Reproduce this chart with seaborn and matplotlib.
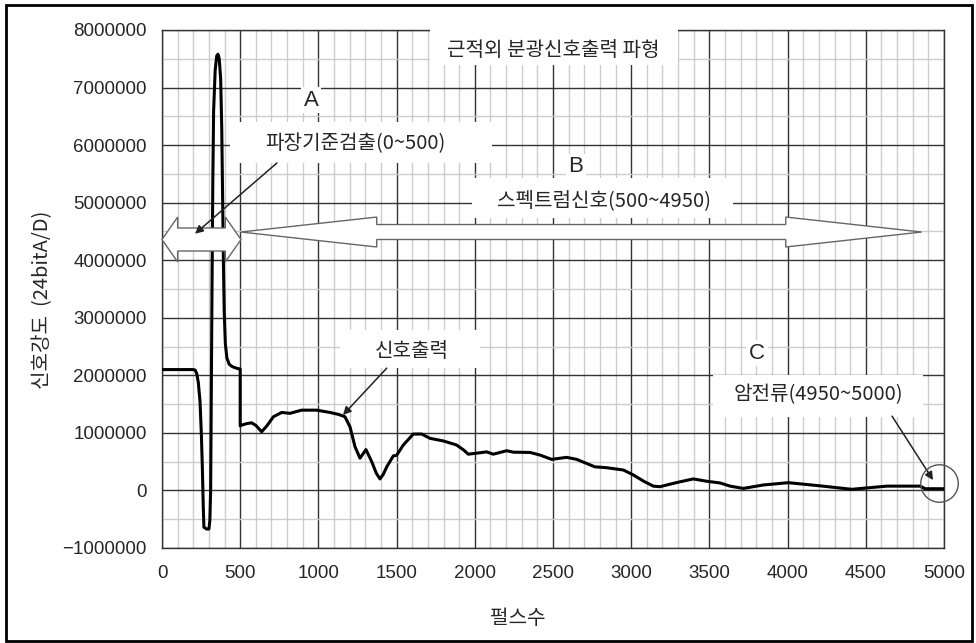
import matplotlib
matplotlib.use("Agg")
import matplotlib.pyplot as plt
import numpy as np
import pandas as pd
import seaborn as sns
from matplotlib.patches import Polygon, Rectangle
from matplotlib.ticker import MultipleLocator, FuncFormatter

# Near-infrared spectrometer output waveform: pulse index vs. signal level
pulse_count = [
    0, 100, 200, 212, 222, 232, 243, 252, 258, 264, 268, 285, 300, 306, 311,
    315, 320, 325, 330, 340, 350, 358, 366, 375, 382, 388, 393, 398, 405, 415,
    430, 450, 480, 500,
    500, 510, 540, 573, 600, 637, 670, 712, 765, 818, 893, 989, 1074, 1130,
    1170, 1202, 1234, 1266, 1304, 1341, 1370, 1394, 1415, 1437, 1479, 1500,
    1543, 1607, 1660, 1714, 1799, 1883, 1930, 1958, 2033, 2076, 2118, 2204,
    2246, 2353, 2417, 2491, 2587, 2651, 2768, 2843, 2950, 3013, 3080, 3141,
    3184, 3250, 3312, 3397, 3482, 3568, 3632, 3717, 3845, 4005, 4207, 4410,
    4634, 4847, 4879, 5000,
]
signal_level = [
    2100000, 2100000, 2100000, 2090000, 2030000, 1880000, 1550000, 950000,
    400000, -300000, -640000, -670000, -670000, -520000, 0,
    1600000, 3600000, 5400000, 6600000, 7300000, 7550000, 7580000, 7500000,
    7150000, 6300000, 5000000, 3900000, 3100000, 2550000, 2300000,
    2190000, 2150000, 2120000, 2110000,
    1120000, 1135000, 1160000, 1175000, 1130000, 1020000, 1120000, 1280000,
    1355000, 1340000, 1395000, 1395000, 1355000, 1320000,
    1280000, 1105000, 760000, 560000, 710000, 500000, 300000, 200000,
    280000, 410000, 600000, 610000,
    790000, 980000, 980000, 905000, 860000, 790000, 700000, 630000, 655000,
    670000, 630000, 690000,
    665000, 660000, 615000, 540000, 575000, 540000, 410000, 395000, 355000,
    270000, 160000, 75000,
    65000, 110000, 150000, 200000, 160000, 130000, 75000, 35000, 95000,
    135000, 80000, 20000,
    75000, 75000, 30000, 30000,
]

x_ticks = list(range(0, 5001, 500))
y_ticks = list(range(-1000000, 8000001, 1000000))

chart_title = "근적외 분광신호출력 파형"
x_label = "펄스수"
y_label = "신호강도  (24bitA/D)"

sns.set_theme(style="white")
plt.rcParams["font.family"] = ["Noto Sans CJK KR", "DejaVu Sans"]
plt.rcParams["axes.unicode_minus"] = True

W, H = 976, 643
fig = plt.figure(figsize=(W / 100, H / 100), dpi=100)
fig.patch.set_facecolor("white")
ax = fig.add_axes([162 / W, 1 - 548 / H, 782 / W, 518 / H])

df = pd.DataFrame({"pulse": pulse_count, "signal": signal_level})
sns.lineplot(data=df, x="pulse", y="signal", estimator=None, sort=False,
             color="black", linewidth=2.2, ax=ax, zorder=3)

ax.set_xlim(x_ticks[0], x_ticks[-1])
ax.set_ylim(y_ticks[0], y_ticks[-1])
ax.set_xticks(x_ticks)
ax.set_yticks(y_ticks)
ax.xaxis.set_minor_locator(MultipleLocator(100))
ax.yaxis.set_minor_locator(MultipleLocator(500000))
ax.yaxis.set_major_formatter(FuncFormatter(lambda v, p: f"{int(v)}".replace("-", "\u2212")))
ax.set_axisbelow(True)
ax.grid(which="major", color="#333333", linewidth=1.0)
ax.grid(which="minor", color="#cccccc", linewidth=1.0)
ax.tick_params(which="both", length=0)
ax.tick_params(axis="x", pad=12, labelsize=13.5, labelfontfamily="Liberation Sans")
ax.tick_params(axis="y", pad=11, labelsize=13.5, labelfontfamily="Liberation Sans")
for s in ax.spines.values():
    s.set_color("#333333")
    s.set_linewidth(1.0)
ax.set_xlabel("")
ax.set_ylabel("")

fig.text(518 / W, 1 - 618 / H, x_label, ha="center", va="center", fontsize=14.5)
fig.text(43 / W, 1 - 300 / H, y_label, ha="center", va="center",
         rotation=90, fontsize=14.5)

# white label panels
panels = [
    (1714, 7385000, 1585, 655000),   # title
    (435, 5690000, 1675, 710000),    # wavelength reference
    (1982, 4730000, 1669, 690000),   # spectrum signal
    (1138, 2125000, 895, 660000),    # signal output
    (3523, 1275000, 1343, 725000),   # dark current
]
for x0, y0, w, h in panels:
    ax.add_patch(Rectangle((x0, y0), w, h, facecolor="white", edgecolor="none",
                           zorder=4, clip_on=False))

text_kw = dict(ha="center", va="center", fontsize=14.5, zorder=6)
ax.text(2500, 7650000, chart_title, **text_kw)
ax.text(1234, 6020000, "파장기준검출(0~500)", **text_kw)
ax.text(2826, 5040000, "스펙트럼신호(500~4950)", **text_kw)
ax.text(1597, 2410000, "신호출력", **text_kw)
ax.text(4194, 1660000, "암전류(4950~5000)", **text_kw)

letter_kw = dict(ha="center", va="center", fontsize=16, family="Liberation Sans",
                 zorder=6, bbox=dict(facecolor="white", edgecolor="none", pad=2))
ax.text(953, 6780000, "A", **letter_kw)
ax.text(2647, 5620000, "B", **letter_kw)
ax.text(3804, 2385000, "C", **letter_kw)


def hollow_arrow(x_left, x_right, yc, body, head, len_left, len_right):
    upper = [(x_left, yc), (x_left + len_left, yc + head), (x_left + len_left, yc + body),
             (x_right - len_right, yc + body), (x_right - len_right, yc + head), (x_right, yc)]
    lower = [(x_right - len_right, yc - head), (x_right - len_right, yc - body),
             (x_left + len_left, yc - body), (x_left + len_left, yc - head)]
    return upper + lower


dbl = Polygon(hollow_arrow(0, 505, 4360000, 200000, 390000, 100, 100),
              closed=True, facecolor="white", edgecolor="#666666", lw=1.0,
              zorder=5, clip_on=False)
ax.add_patch(dbl)
span = Polygon(hollow_arrow(505, 4857, 4490000, 130000, 260000, 868, 869),
               closed=True, facecolor="white", edgecolor="#666666", lw=1.0, zorder=5)
ax.add_patch(span)

arrow_kw = dict(arrowstyle="-|>", color="#222222", lw=1.1, mutation_scale=12,
                shrinkA=0, shrinkB=0)
ax.annotate("", xy=(211, 4460000), xytext=(735, 5690000), arrowprops=arrow_kw, zorder=7)
ax.annotate("", xy=(1157, 1310000), xytext=(1437, 2125000), arrowprops=arrow_kw, zorder=7)
ax.annotate("", xy=(4930, 180000), xytext=(4668, 1290000), arrowprops=arrow_kw, zorder=7)

# ring marking the dark-current region
ax.plot([4968], [130000], marker="o", markersize=27, markerfacecolor="none",
        markeredgecolor="#555555", markeredgewidth=1.0, clip_on=False, zorder=7)

# outer frame
fig.add_artist(Rectangle((6 / W, 2 / H), (972 - 6) / W, (638 - 2) / H,
                         transform=fig.transFigure, facecolor="none",
                         edgecolor="black", lw=2.0))

fig.savefig("out.png", dpi=100, facecolor="white")
